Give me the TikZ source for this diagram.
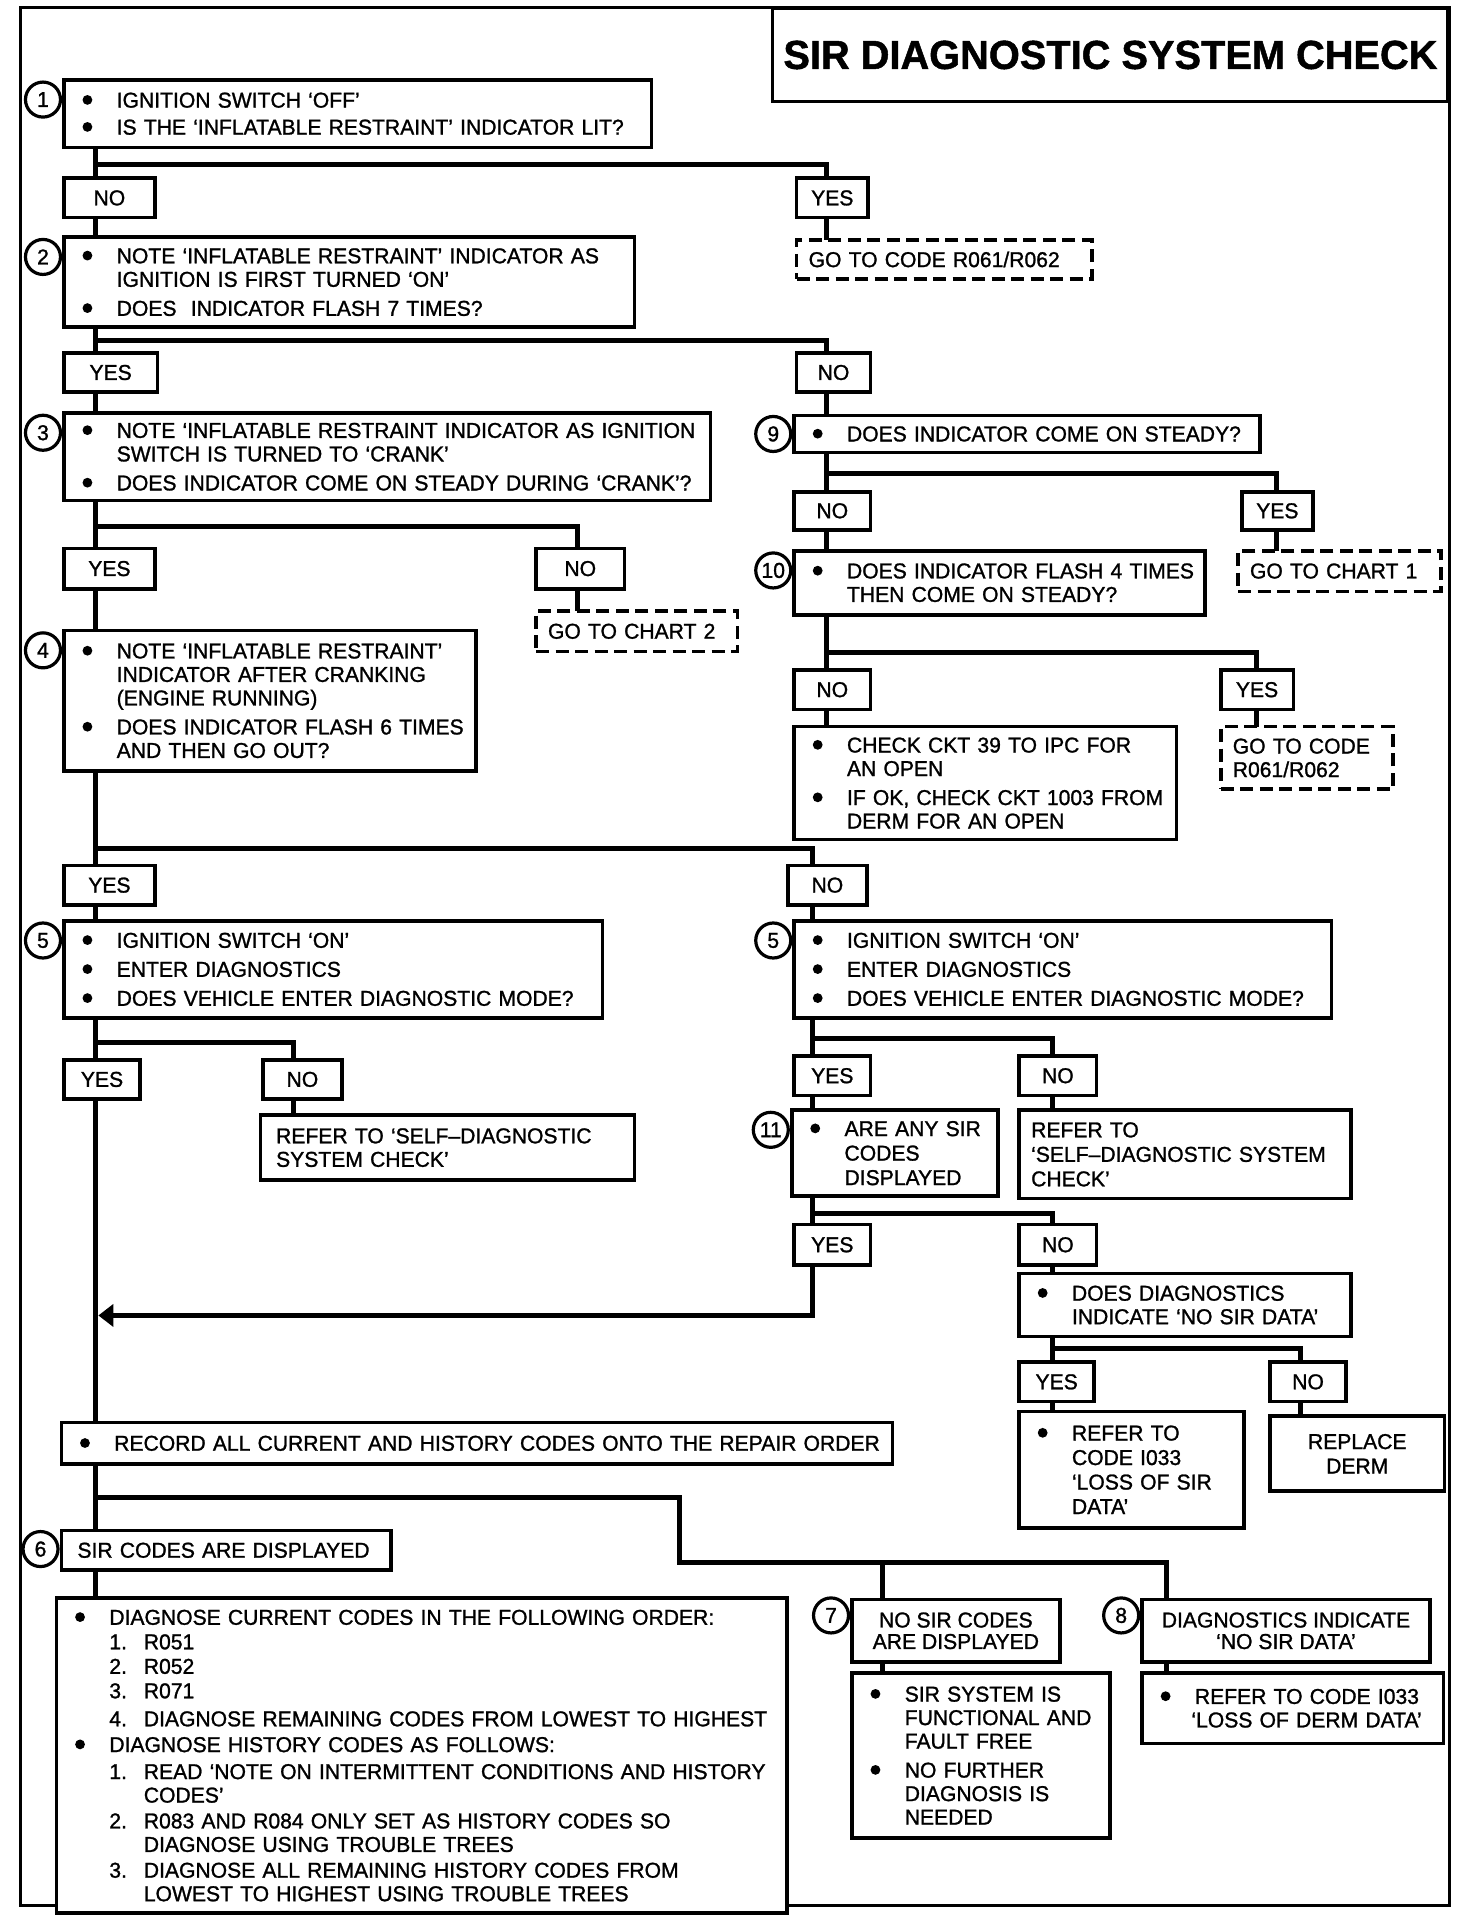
\documentclass[tikz,border=0pt]{standalone}
\usepackage{fontspec}
\setmainfont{Liberation Sans}[FakeStretch=0.982,FakeBold=1.2]
\usetikzlibrary{calc,arrows.meta}
\newcommand{\tx}{\fontsize{21.5pt}{23.5pt}\selectfont}
\newcommand{\bdot}{\tikz[baseline=-7.7pt]\fill (0,0) circle[radius=4.9pt];}
\newcommand{\bl}[1]{\mbox{\makebox[34.5pt][l]{\hspace*{0.3pt}\bdot}#1}}
\newcommand{\hg}[1]{\mbox{\hspace*{34.5pt}#1}}
\newcommand{\nm}[2]{\mbox{\hspace*{34.5pt}\makebox[34.5pt][l]{#1}#2}}
\newcommand{\nh}[1]{\mbox{\hspace*{69pt}#1}}
\newcommand{\sk}{\\[5.5pt]}
\def\ixs{18.3pt}
\newcommand{\mkbox}[7][]{%
  \pgfmathsetlengthmacro{\bw}{(#5-#3)*1.2294pt}%
  \pgfmathsetlengthmacro{\bh}{(#6-#4)*1.2294pt}%
  \pgfmathsetlengthmacro{\tw}{(#5-#3)*1.2294pt-2*\ixs}%
  \node[box,#1,inner xsep=\ixs,text width=\tw,align=left,minimum width=\bw,minimum height=\bh,anchor=north west] (#2) at (#3,#4) {#7};}
\newcommand{\mkcbox}[7][]{%
  \pgfmathsetlengthmacro{\bw}{(#5-#3)*1.2294pt}%
  \pgfmathsetlengthmacro{\bh}{(#6-#4)*1.2294pt}%
  \node[box,#1,inner xsep=0pt,align=center,minimum width=\bw,minimum height=\bh,anchor=north west] (#2) at (#3,#4) {#7};}
\newcommand{\cnum}[4]{\node[num,anchor=east] (#1) at ($(#2.north west)+(-1.5,#4)$) {#3};}
\begin{document}
\begin{tikzpicture}[x=1.2294pt,y=-1.2294pt,
  box/.style={draw,line width=3.6pt,fill=white,inner ysep=0pt,outer sep=0pt,font=\tx},
  dbox/.style={dash pattern=on 13pt off 6.5pt},
  num/.style={circle,draw,line width=3.2pt,fill=white,minimum size=35pt,inner sep=0pt,font=\tx},
  conn/.style={line width=5pt},
  frame/.style={line width=3pt}]
\useasboundingbox (0,0) rectangle (1197.3,1565);
% frame and title
\draw[frame] (17,6) rectangle (1179,1550);
\node[draw,line width=3pt,fill=white,anchor=north east,minimum width=675pt,minimum height=92.2pt,inner sep=0pt,
  font=\fontsize{40.5pt}{41pt}\selectfont\bfseries] (ttl) at (1179,6) {SIR DIAGNOSTIC SYSTEM CHECK};
% x positions of the vertical lines
\coordinate (tL) at (78,0);
\coordinate (xA) at (672,0);
\coordinate (xB) at (470,0);
\coordinate (xC) at (1038,0);
\coordinate (xD) at (1022,0);
\coordinate (xE) at (661,0);
\coordinate (xF) at (856,0);
\coordinate (xG) at (1058,0);
\coordinate (xH) at (239,0);
\coordinate (xJ) at (718,0);
\coordinate (xK) at (949,0);
% branch points
\coordinate (k1) at (78,134);
\coordinate (k2) at (78,277);
\coordinate (k3) at (78,428);
\coordinate (k9) at (672,385);
\coordinate (k10) at (672,531);
\coordinate (k4) at (78,690);
\coordinate (k5L) at (78,848);
\coordinate (k5R) at (661,845);
\coordinate (k11) at (661,987);
\coordinate (kdd) at (856,1097);
\coordinate (ka) at (80,1070);
\coordinate (k6) at (78,1218);
\coordinate (kc) at (553,1271);
\coordinate (kd) at (718,1271);
% ---- boxes ----
\mkbox{b1}{52}{65}{530}{120}{\bl{IGNITION SWITCH ‘OFF’}\\[3.5pt]\bl{IS THE ‘INFLATABLE RESTRAINT’ INDICATOR LIT?}}
\cnum{c1}{b1}{1}{16}
\mkcbox{n1}{52}{145}{126}{177}{NO}
\mkcbox{y1}{648}{145}{706}{177}{YES}
\def\ixs{12pt}
\mkbox[dbox]{g1}{648}{195}{888}{227}{\mbox{GO TO CODE R061/R062}}
\def\ixs{18.3pt}
\mkbox{b2}{52}{193}{516}{266}{\bl{NOTE ‘INFLATABLE RESTRAINT’ INDICATOR AS}\\\hg{IGNITION IS FIRST TURNED ‘ON’}\sk\bl{DOES\ \ INDICATOR FLASH 7 TIMES?}}
\cnum{c2}{b2}{2}{16}
\mkcbox{y2}{52}{287}{128}{319}{YES}
\mkcbox{n2}{648}{287}{708}{319}{NO}
\mkbox{b3}{52}{336}{578}{407}{\bl{NOTE ‘INFLATABLE RESTRAINT INDICATOR AS IGNITION}\\\hg{SWITCH IS TURNED TO ‘CRANK’}\sk\bl{DOES INDICATOR COME ON STEADY DURING ‘CRANK’?}}
\cnum{c3}{b3}{3}{16}
\mkbox{b9}{646}{338}{1025}{368}{\bl{DOES INDICATOR COME ON STEADY?}}
\cnum{c9}{b9}{9}{15}
\mkcbox{n9}{646}{400}{708}{431}{NO}
\mkcbox{y9}{1010}{400}{1068}{431}{YES}
\mkbox{b10}{646}{448}{980}{500}{\bl{DOES INDICATOR FLASH 4 TIMES}\\\hg{THEN COME ON STEADY?}}
\cnum{c10}{b10}{10}{16}
\def\ixs{12pt}
\mkbox[dbox]{g9}{1007}{448}{1172}{481}{\mbox{GO TO CHART 1}}
\def\ixs{18.3pt}
\mkcbox{y3}{52}{446}{126}{479}{YES}
\mkcbox{n3}{436}{446}{508}{479}{NO}
\def\ixs{12pt}
\mkbox[dbox]{g3}{436}{497}{600}{530}{\mbox{GO TO CHART 2}}
\def\ixs{18.3pt}
\mkbox{b4}{52}{513}{387}{627}{\bl{NOTE ‘INFLATABLE RESTRAINT’}\\\hg{INDICATOR AFTER CRANKING}\\\hg{(ENGINE RUNNING)}\sk\bl{DOES INDICATOR FLASH 6 TIMES}\\\hg{AND THEN GO OUT?}}
\cnum{c4}{b4}{4}{16}
\mkcbox{n10}{646}{545}{708}{577}{NO}
\mkcbox{y10}{993}{545}{1052}{577}{YES}
\mkbox{ck}{646}{591}{957}{683}{\bl{CHECK CKT 39 TO IPC FOR}\\\hg{AN OPEN}\sk\bl{IF OK, CHECK CKT 1003 FROM}\\\hg{DERM FOR AN OPEN}}
\def\ixs{12pt}
\mkbox[dbox]{g10}{993}{591}{1133}{642}{\mbox{GO TO CODE}\\\mbox{R061/R062}}
\def\ixs{18.3pt}
\mkcbox{y4}{52}{704}{126}{736}{YES}
\mkcbox{n4}{641}{704}{705}{736}{NO}
\mkbox{b5L}{52}{749}{490}{828}{\bl{IGNITION SWITCH ‘ON’}\sk\bl{ENTER DIAGNOSTICS}\sk\bl{DOES VEHICLE ENTER DIAGNOSTIC MODE?}}
\cnum{c5L}{b5L}{5}{16}
\mkbox{b5R}{646}{749}{1083}{828}{\bl{IGNITION SWITCH ‘ON’}\sk\bl{ENTER DIAGNOSTICS}\sk\bl{DOES VEHICLE ENTER DIAGNOSTIC MODE?}}
\cnum{c5R}{b5R}{5}{16}
\mkcbox{y5L}{52}{862}{114}{894}{YES}
\mkcbox{n5L}{214}{862}{278}{894}{NO}
\def\ixs{15.5pt}
\mkbox{r5L}{212}{907}{516}{960}{\mbox{REFER TO ‘SELF–DIAGNOSTIC}\\\mbox{SYSTEM CHECK’}}
\def\ixs{18.3pt}
\mkcbox{y5R}{646}{859}{708}{891}{YES}
\mkcbox{n5R}{829}{859}{892}{891}{NO}
\mkbox{b11}{644}{903}{812}{973}{\bl{ARE ANY SIR}\\[1pt]\hg{CODES}\\[1pt]\hg{DISPLAYED}}
\cnum{c11}{b11}{11}{16}
\def\ixs{12pt}
\mkbox{r5R}{829}{903}{1099}{975}{\mbox{REFER TO}\\[1pt]\mbox{‘SELF–DIAGNOSTIC SYSTEM}\\[1pt]\mbox{CHECK’}}
\def\ixs{18.3pt}
\mkcbox{y11}{646}{996}{708}{1029}{YES}
\mkcbox{n11}{829}{996}{892}{1029}{NO}
\mkbox{bdd}{829}{1036}{1099}{1087}{\bl{DOES DIAGNOSTICS}\\\hg{INDICATE ‘NO SIR DATA’}}
\mkcbox{ydd}{829}{1108}{890}{1140}{YES}
\mkcbox{ndd}{1033}{1108}{1095}{1140}{NO}
\mkbox{rdd}{829}{1148}{1012}{1243}{\bl{REFER TO}\\[1pt]\hg{CODE I033}\\[1pt]\hg{‘LOSS OF SIR}\\[1pt]\hg{DATA’}}
\mkcbox{repl}{1033}{1152}{1175}{1213}{REPLACE\\[1pt]DERM}
\mkbox{rec}{50}{1157}{726}{1191}{\bl{RECORD ALL CURRENT AND HISTORY CODES ONTO THE REPAIR ORDER}}
\def\ixs{16pt}
\mkbox{b6}{50}{1245}{318}{1277}{\mbox{SIR CODES ARE DISPLAYED}}
\cnum{c6}{b6}{6}{15}
\def\ixs{18.3pt}
\mkbox{b6d}{46}{1300}{640}{1556}{\bl{DIAGNOSE CURRENT CODES IN THE FOLLOWING ORDER:}\\[1pt]
  \nm{1.}{R051}\\[1pt]\nm{2.}{R052}\\[1pt]\nm{3.}{R071}\\[4.5pt]
  \nm{4.}{DIAGNOSE REMAINING CODES FROM LOWEST TO HIGHEST}\\[2.3pt]
  \bl{DIAGNOSE HISTORY CODES AS FOLLOWS:}\\[3.5pt]
  \nm{1.}{READ ‘NOTE ON INTERMITTENT CONDITIONS AND HISTORY}\\\nh{CODES’}\\[2.3pt]
  \nm{2.}{R083 AND R084 ONLY SET AS HISTORY CODES SO}\\\nh{DIAGNOSE USING TROUBLE TREES}\\[2.3pt]
  \nm{3.}{DIAGNOSE ALL REMAINING HISTORY CODES FROM}\\\nh{LOWEST TO HIGHEST USING TROUBLE TREES}}
\mkcbox{b7}{693}{1301}{862}{1352}{NO SIR CODES\\[-2pt]ARE DISPLAYED}
\cnum{c7}{b7}{7}{13}
\mkbox{b7d}{693}{1361}{903}{1495}{\bl{SIR SYSTEM IS}\\\hg{FUNCTIONAL AND}\\\hg{FAULT FREE}\sk\bl{NO FURTHER}\\\hg{DIAGNOSIS IS}\\\hg{NEEDED}}
\mkcbox{b8}{929}{1301}{1163}{1352}{DIAGNOSTICS INDICATE\\[-2pt]‘NO SIR DATA’}
\cnum{c8}{b8}{8}{13}
\mkbox{b8d}{929}{1361}{1174}{1418}{\bl{REFER TO CODE I033}\\\mbox{\hspace*{31pt}‘LOSS OF DERM DATA’}}
% ---- connectors ----
\draw[conn] (b1.south -| tL) -- (n1.north -| tL);
\draw[conn] (n1.south -| tL) -- (b2.north -| tL);
\draw[conn] (k1) -| (y1.north -| xA);
\draw[conn] (y1.south -| xA) -- (g1.north -| xA);
\draw[conn] (b2.south -| tL) -- (y2.north -| tL);
\draw[conn] (y2.south -| tL) -- (b3.north -| tL);
\draw[conn] (k2) -| (n2.north -| xA);
\draw[conn] (n2.south -| xA) -- (b9.north -| xA);
\draw[conn] (b9.south -| xA) -- (n9.north -| xA);
\draw[conn] (k9) -| (y9.north -| xC);
\draw[conn] (n9.south -| xA) -- (b10.north -| xA);
\draw[conn] (y9.south -| xC) -- (g9.north -| xC);
\draw[conn] (b3.south -| tL) -- (y3.north -| tL);
\draw[conn] (k3) -| (n3.north -| xB);
\draw[conn] (n3.south -| xB) -- (g3.north -| xB);
\draw[conn] (y3.south -| tL) -- (b4.north -| tL);
\draw[conn] (b10.south -| xA) -- (n10.north -| xA);
\draw[conn] (k10) -| (y10.north -| xD);
\draw[conn] (n10.south -| xA) -- (ck.north -| xA);
\draw[conn] (y10.south -| xD) -- (g10.north -| xD);
\draw[conn] (b4.south -| tL) -- (y4.north -| tL);
\draw[conn] (k4) -| (n4.north -| xE);
\draw[conn] (y4.south -| tL) -- (b5L.north -| tL);
\draw[conn] (n4.south -| xE) -- (b5R.north -| xE);
\draw[conn] (b5L.south -| tL) -- (y5L.north -| tL);
\draw[conn] (k5L) -| (n5L.north -| xH);
\draw[conn] (n5L.south -| xH) -- (r5L.north -| xH);
\draw[conn] (y5L.south -| tL) -- (rec.north -| tL);
\draw[conn] (b5R.south -| xE) -- (y5R.north -| xE);
\draw[conn] (k5R) -| (n5R.north -| xF);
\draw[conn] (y5R.south -| xE) -- (b11.north -| xE);
\draw[conn] (n5R.south -| xF) -- (r5R.north -| xF);
\draw[conn] (b11.south -| xE) -- (y11.north -| xE);
\draw[conn] (k11) -| (n11.north -| xF);
\draw[conn] (n11.south -| xF) -- (bdd.north -| xF);
\draw[conn,-{Triangle[length=15pt,width=22pt]}] (y11.south -| xE) |- (ka);
\draw[conn] (bdd.south -| xF) -- (ydd.north -| xF);
\draw[conn] (kdd) -| (ndd.north -| xG);
\draw[conn] (ydd.south -| xF) -- (rdd.north -| xF);
\draw[conn] (ndd.south -| xG) -- (repl.north -| xG);
\draw[conn] (rec.south -| tL) -- (b6.north -| tL);
\draw[conn] (k6) -| (kc) -| (b8.north -| xK);
\draw[conn] (kd) -- (b7.north -| xJ);
\draw[conn] (b6.south -| tL) -- (b6d.north -| tL);
\draw[conn] (b7.south -| xJ) -- (b7d.north -| xJ);
\draw[conn] (b8.south -| xK) -- (b8d.north -| xK);
\end{tikzpicture}
\end{document}
